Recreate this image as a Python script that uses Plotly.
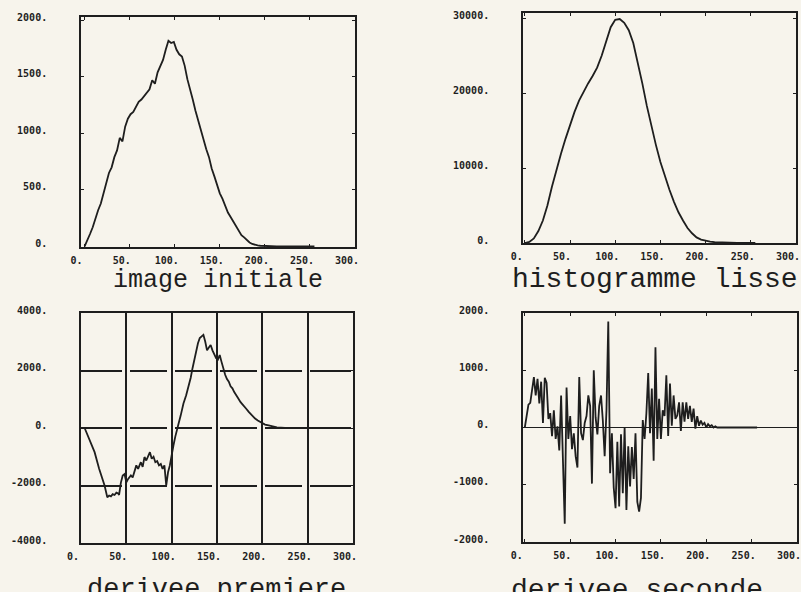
import plotly.graph_objects as go

# ---------------- data ----------------
# image initiale (raw histogram)
hist_x = list(range(0, 256, 3))
hist_y = [0, 50, 110, 170, 250, 320, 380, 470, 540, 650, 700, 790, 850, 960, 930,
          1060, 1130, 1170, 1190, 1240, 1280, 1300, 1330, 1360, 1390, 1470, 1440,
          1540, 1590, 1650, 1740, 1820, 1800, 1810, 1740, 1700, 1680, 1600, 1480,
          1400, 1300, 1200, 1110, 1030, 940, 860, 790, 690, 620, 540, 470, 420, 360,
          300, 260, 220, 170, 130, 100, 80, 55, 35, 22, 14, 9, 6, 4, 3, 2, 1, 1,
          0, 0, 0, 0, 0, 0, 0, 0, 0, 0, 0, 0, 0, 0, 0]

# histogramme lisse (smoothed histogram)
smooth_x = list(range(0, 256, 5))
smooth_y = [0, 150, 600, 1600, 3000, 5000, 7500, 9900, 11900, 13900, 15800, 17500,
            19000, 20200, 21300, 22300, 23400, 25000, 27000, 28800, 29800, 29900,
            29400, 28400, 26700, 24200, 21300, 18300, 15500, 13100, 10800, 8900,
            7100, 5500, 4100, 3000, 2000, 1300, 750, 450, 280, 180, 110, 70, 40, 20,
            10, 5, 0, 0, 0, 0]

# derivee premiere (first derivative)
d1_x = [4, 9, 15, 20, 26, 29, 31, 33, 35, 37, 39, 41, 42, 44, 46, 48, 50, 52, 55,
        57, 59, 61, 63, 65, 66, 68, 70, 72, 74, 76, 78, 80, 82, 84, 86, 88, 90, 92,
        94, 96, 98, 100, 102, 104, 106, 108, 110, 113, 116, 119, 121, 123, 125, 127,
        129, 131, 133, 135, 137, 139, 141, 143, 145, 147, 149, 151, 153, 155, 157,
        159, 161, 163, 165, 167, 169, 171, 173, 176, 179, 182, 185, 188, 192, 195,
        198, 203, 207, 210, 216, 225, 255]
d1_y = [0, -370, -840, -1420, -2000, -2410, -2350, -2380, -2300, -2330, -2250, -2280,
        -2330, -1900, -1650, -1600, -1890, -1770, -1650, -1720, -1540, -1300, -1420,
        -1260, -1190, -1350, -1010, -1130, -1000, -840, -1070, -1000, -1190, -1150,
        -1300, -1250, -1420, -1300, -2000, -1540, -1300, -900, -600, -300, 0, 200, 440,
        850, 1140, 1490, 1750, 2080, 2400, 2660, 2950, 3130, 3200, 3240, 3010, 2700,
        2800, 2890, 2700, 2540, 2430, 2380, 2540, 2300, 2020, 1850, 1700, 1610, 1450,
        1380, 1250, 1130, 1050, 900, 800, 680, 560, 450, 330, 260, 200, 120, 90, 70,
        20, 0, 0]

# derivee seconde (second derivative)
d2_x = list(range(0, 258, 2))
d2_y = [0, 200, 400, 430, 700, 880, 560, 850, 420, 800, 80, 870, 780, 150, 250, -150,
        300, -200, 20, -400, 560, -480, -1680, 700, -200, 200, -380, -100, -500, -700,
        880, -100, -220, 80, 200, 560, 380, -980, 1000, 180, -120, 380, 560, 120, -500,
        300, 1850, -800, -100, -1050, -1410, -250, -1380, -120, -1150, 0, -1440, -330,
        -1030, -340, -900, -100, -1300, -1470, -1230, 130, -200, 250, 950, -100, 680,
        -580, 1400, -200, 500, -200, 300, 200, 910, -150, 770, 30, 560, 150, 210, 440,
        -60, 440, 100, 440, 150, 380, 100, 330, -20, 200, 30, 120, 50, 80, 0, 60, 20,
        40, 0, 20, 0, 0, 0, 0, 0, 0, 0, 0, 0, 0, 0, 0, 0, 0, 0, 0, 0, 0, 0, 0, 0, 0, 0]

x_ticks = [0, 50, 100, 150, 200, 250, 300]
x_labels = ["0.", "50.", "100.", "150.", "200.", "250.", "300."]
y1_ticks = [0, 500, 1000, 1500, 2000]
y1_labels = ["0.", "500.", "1000.", "1500.", "2000."]
y2_ticks = [0, 10000, 20000, 30000]
y2_labels = ["0.", "10000.", "20000.", "30000."]
y3_ticks = [-4000, -2000, 0, 2000, 4000]
y3_labels = ["-4000.", "-2000.", "0.", "2000.", "4000."]
y4_ticks = [-2000, -1000, 0, 1000, 2000]
y4_labels = ["-2000.", "-1000.", "0.", "1000.", "2000."]
titles = ["image initiale", "histogramme lisse", "derivee premiere", "derivee seconde"]

# ---------------- style ----------------
INK = "#1e1e1e"
PAPER = "#f7f4ec"
TICKFONT = dict(family="DejaVu Sans Mono", size=10, color=INK, weight="bold")
W, H = 801, 592

def px_x(a, b):
    return [a / W, b / W]

def px_y(top, bottom):
    return [1 - bottom / H, 1 - top / H]

fig = go.Figure()
line = dict(color=INK, width=1.8)
fig.add_trace(go.Scatter(x=hist_x, y=hist_y, mode="lines", line=line, xaxis="x", yaxis="y"))
fig.add_trace(go.Scatter(x=smooth_x, y=smooth_y, mode="lines", line=line, xaxis="x2", yaxis="y2"))
fig.add_trace(go.Scatter(x=d1_x, y=d1_y, mode="lines", line=line, xaxis="x3", yaxis="y3"))
fig.add_trace(go.Scatter(x=d2_x, y=d2_y, mode="lines", line=dict(color=INK, width=1.8),
                         xaxis="x4", yaxis="y4"))

def xax(domain, rng, anchor, grid=False):
    return dict(domain=domain, range=rng, anchor=anchor, tickvals=x_ticks, ticktext=x_labels,
                tickfont=TICKFONT, showline=True, linecolor=INK, linewidth=1.6, mirror="ticks",
                ticks="inside", ticklen=3, tickcolor=INK, zeroline=False, automargin=False,
                showgrid=grid, gridcolor=INK, gridwidth=1.6, ticklabeloverflow="allow",
                ticklabelstandoff=3, ticklabelshift=-8, fixedrange=True)

def yax(domain, rng, anchor, tv, tt, grid=False, zero=False, dash=None):
    d = dict(domain=domain, range=rng, anchor=anchor, tickvals=tv, ticktext=tt,
             tickfont=TICKFONT, showline=True, linecolor=INK, linewidth=1.6, mirror="ticks",
             ticks="inside", ticklen=3, tickcolor=INK, automargin=False,
             zeroline=zero, zerolinecolor=INK, zerolinewidth=1.3, ticklabeloverflow="allow",
             showgrid=grid, gridcolor=INK, gridwidth=1.6,
             ticklabelstandoff=30, ticklabelshift=-3, fixedrange=True)
    if dash:
        d["griddash"] = dash
    return d

hdash = "41px,8px,37px,8px,37px,8px,37px,8px,37px,8px,41px,60px"

fig.update_layout(
    template="none",
    width=W, height=H, showlegend=False,
    margin=dict(l=0, r=0, t=0, b=0, autoexpand=False),
    paper_bgcolor=PAPER, plot_bgcolor=PAPER,
    xaxis=xax(px_x(81, 355), [-4, 300], "y"),
    yaxis=yax(px_y(17, 247), [-5, 2030], "x", y1_ticks, y1_labels),
    xaxis2=xax(px_x(523, 796), [-2, 300], "y2"),
    yaxis2=yax(px_y(13, 243), [0, 30700], "x2", y2_ticks, y2_labels),
    xaxis3=xax(px_x(81, 353), [0, 300], "y3", grid=True),
    yaxis3=yax(px_y(313, 543), [-4000, 4000], "x3", y3_ticks, y3_labels, grid=True, dash=hdash),
    xaxis4=xax(px_x(523, 797), [-2, 300], "y4"),
    yaxis4=yax(px_y(313, 542), [-2000, 2000], "x4", y4_ticks, y4_labels, zero=True),
)

title_pos = [(218, 280, 25), (655, 279, 28), (216, 590, 27), (637, 590, 28)]
for t, (cx, cy, fs) in zip(titles, title_pos):
    fig.add_annotation(text=t, x=cx / W, y=1 - cy / H, xref="paper", yref="paper",
                       xanchor="center", yanchor="middle", showarrow=False,
                       font=dict(family="Liberation Mono", size=fs, color=INK))

fig.write_html(
    "out.html",
    config={"displayModeBar": False},
    post_script="document.body.style.margin='0';document.body.style.background='%s';"
                "document.documentElement.style.overflow='hidden';" % PAPER,
)
